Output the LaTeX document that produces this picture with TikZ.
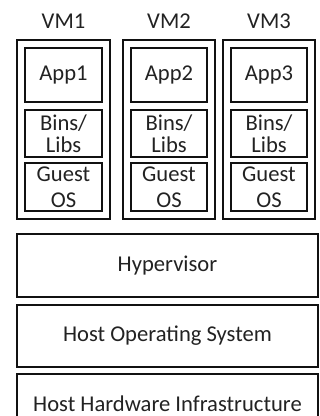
\documentclass[tikz,border=0pt]{standalone}
\usepackage{fontspec}
\setmainfont{Carlito}
\definecolor{ink}{HTML}{111111}
\definecolor{txt}{HTML}{222222}
\begin{document}
\begin{tikzpicture}[x=1pt,y=-1pt,
  box/.style={draw=ink, line width=2pt, inner sep=0pt, align=center,
    text=txt, font=\fontsize{22.6}{22}\selectfont},
  vmbox/.style={box, minimum width=#1, minimum height=179},
  appbox/.style={box, minimum width=#1, minimum height=54},
  libbox/.style={box, minimum width=#1, minimum height=47},
  osbox/.style={box, minimum width=#1, minimum height=48},
  layer/.style={box, minimum width=301, minimum height=#1},
  vmlabel/.style={text=txt, inner sep=0pt, font=\fontsize{22.6}{22}\selectfont}]
\useasboundingbox (0,0) rectangle (320,416);
\clip (0,0) rectangle (320,416);

% virtual machine labels
\node[vmlabel] (l1) at (63.5,21) {VM1};
\node[vmlabel] (l2) at (169,21) {VM2};
\node[vmlabel] (l3) at (269,21) {VM3};

% virtual machine frames
\node[vmbox=93] (vm1) at (63.5,129.5) {};
\node[vmbox=92] (vm2) at (169,129.5) {};
\node[vmbox=92] (vm3) at (269,129.5) {};

% stacks inside each VM
\node[appbox=77] (app1) at (63.5,75) {App1};
\node[libbox=77] (lib1) at (63.5,133.5) {Bins/\\[0pt]Libs};
\node[osbox=77]  (os1)  at (63.5,187) {Guest\\[4pt]OS};

\node[appbox=76] (app2) at (169,75) {App2};
\node[libbox=76] (lib2) at (169,133.5) {Bins/\\[0pt]Libs};
\node[osbox=76]  (os2)  at (169,187) {Guest\\[4pt]OS};

\node[appbox=76] (app3) at (269,75) {App3};
\node[libbox=76] (lib3) at (269,133.5) {Bins/\\[0pt]Libs};
\node[osbox=76]  (os3)  at (269,187) {Guest\\[4pt]OS};

% host layers
\node[layer=63] (hyp)  at (167.5,265.5) {Hypervisor};
\node[layer=62] (hos)  at (167.5,336)   {Host Operating System};
\node[layer=63] (hhw)  at (167.5,405.5) {};
\node[vmlabel] (hhwt) at (167.5,403.5) {Host Hardware Infrastructure};
\end{tikzpicture}
\end{document}
